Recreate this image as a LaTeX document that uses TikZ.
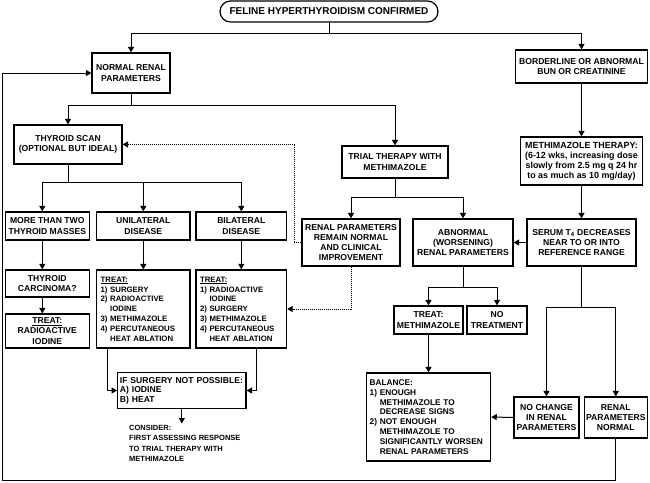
\documentclass[tikz,border=0pt]{standalone}
\usepackage{fontspec}
\setmainfont{Liberation Sans}
\usepackage{tikz}
\usetikzlibrary{arrows.meta, positioning, calc}

\begin{document}
\begin{tikzpicture}[
        x=1pt, y=-1pt,
        box/.style={
            rectangle,
            draw=black,
            line width=1.2pt,
            align=center,
            inner sep=1pt,
            font=\fontsize{8.6}{10.2}\selectfont\bfseries
        },
        listbox/.style={box, align=left, inner sep=4pt, minimum height=78pt, font=\fontsize{7.8}{9.8}\selectfont\bfseries},
        arr/.style={-{Triangle[length=5.5pt, width=6pt]}, line width=1pt},
        dotarr/.style={arr, line width=0.8pt, dash pattern=on 1pt off 1pt}
    ]
    \useasboundingbox (0,0) rectangle (650,482);

    % top and first split
    \node[box, rounded corners=10.5pt, minimum width=218pt, minimum height=21pt, font=\fontsize{10}{12}\selectfont\bfseries] (confirmed) at (329,11.5) {FELINE HYPERTHYROIDISM CONFIRMED};
    \node[box, minimum width=78pt, minimum height=40pt] (normal) at (131,73) {NORMAL RENAL\\PARAMETERS};
    \node[box, minimum width=132pt, minimum height=33pt] (border) at (581.5,66.5) {BORDERLINE OR ABNORMAL\\BUN OR CREATININE};

    % normal renal branch
    \node[box, minimum width=108pt, minimum height=39pt] (scan) at (68,144.5) {THYROID SCAN\\(OPTIONAL BUT IDEAL)};
    \node[box, minimum width=106pt, minimum height=32pt] (trial) at (395,162) {TRIAL THERAPY WITH\\METHIMAZOLE};
    \node[box, minimum width=84pt, minimum height=28pt] (more) at (47.3,226) {MORE THAN TWO\\THYROID MASSES};
    \node[box, minimum width=93.3pt, minimum height=28pt] (uni) at (143.3,226) {UNILATERAL\\DISEASE};
    \node[box, minimum width=90.6pt, minimum height=28pt] (bil) at (241.3,226) {BILATERAL\\DISEASE};
    \node[box, minimum width=84pt, minimum height=27pt] (carc) at (47.3,283.5) {THYROID\\CARCINOMA?};
    \node[box, minimum width=84pt, minimum height=34pt] (radio) at (47.3,331) {\underline{TREAT:}\\RADIOACTIVE\\IODINE};
    \node[listbox, text width=85.3pt] (unitreat) at (143.3,309) {\underline{TREAT:}\\1) SURGERY\\2) RADIOACTIVE\\\hphantom{2) }IODINE\\3) METHIMAZOLE\\4) PERCUTANEOUS\\\hphantom{4) }HEAT ABLATION};
    \node[listbox, text width=82.6pt] (biltreat) at (241.3,309) {\underline{TREAT:}\\1) RADIOACTIVE\\\hphantom{1) }IODINE\\2) SURGERY\\3) METHIMAZOLE\\4) PERCUTANEOUS\\\hphantom{4) }HEAT ABLATION};
    \node[box, align=left, text width=123.7pt, inner sep=2.3pt, minimum height=36pt, font=\fontsize{8.6}{9.6}\selectfont\bfseries] (ifsurg) at (181.8,390.5) {IF SURGERY NOT POSSIBLE:\\A) IODINE\\B) HEAT};
    \node[anchor=north west, align=left, inner sep=0pt, font=\fontsize{7.5}{10.3}\selectfont\bfseries] (consider) at (129,425) {CONSIDER:\\FIRST ASSESSING RESPONSE\\TO TRIAL THERAPY WITH\\METHIMAZOLE};

    % trial therapy and abnormal branch
    \node[box, minimum width=98pt, minimum height=47pt] (remain) at (351,242.5) {RENAL PARAMETERS\\REMAIN NORMAL\\AND CLINICAL\\IMPROVEMENT};
    \node[box, minimum width=100pt, minimum height=47pt] (abn) at (463,242.5) {ABNORMAL\\(WORSENING)\\RENAL PARAMETERS};
    \node[box, minimum width=122pt, minimum height=48pt, font=\fontsize{8.9}{9.9}\selectfont\bfseries] (methi) at (581.5,161) {METHIMAZOLE THERAPY:\\(6-12 wks, increasing dose\\slowly from 2.5 mg q 24 hr\\to as much as 10 mg/day)};
    \node[box, minimum width=109pt, minimum height=47pt] (serum) at (581.5,242.5) {SERUM T\textsubscript{4} DECREASES\\NEAR TO OR INTO\\REFERENCE RANGE};
    \node[box, minimum width=69pt, minimum height=28pt] (treatm) at (428.5,320) {TREAT:\\METHIMAZOLE};
    \node[box, minimum width=60pt, minimum height=28pt] (notreat) at (497,320) {NO\\TREATMENT};
    \node[box, align=left, text width=117.7pt, inner sep=3.3pt, minimum height=88pt, font=\fontsize{8.3}{9.8}\selectfont\bfseries] (balance) at (428.5,417) {BALANCE:\\1) ENOUGH\\\hphantom{1) }METHIMAZOLE TO\\\hphantom{1) }DECREASE SIGNS\\2) NOT ENOUGH\\\hphantom{2) }METHIMAZOLE TO\\\hphantom{2) }SIGNIFICANTLY WORSEN\\\hphantom{2) }RENAL PARAMETERS};
    \node[box, minimum width=65pt, minimum height=41pt] (nochange) at (546.5,417.5) {NO CHANGE\\IN RENAL\\PARAMETERS};
    \node[box, minimum width=63pt, minimum height=41pt] (renalnorm) at (615.8,417.5) {RENAL\\PARAMETERS\\NORMAL};
    \coordinate (loop) at (2,480);

    % connectors
    \draw[arr] (confirmed.south) -- ++(0,10.7) -| (normal.north);
    \draw[arr] (confirmed.south) -- ++(0,10.7) -| (border.north);
    \draw[arr] (normal.south) -- ++(0,12) -| (scan.north);
    \draw[arr] (normal.south) -- ++(0,12) -| (trial.north);
    \draw[arr] (border.south) -- (methi.north);
    \draw[arr] (methi.south) -- (serum.north);
    \draw[arr] (scan.south) -- ++(0,17.5) -| ([xshift=-5pt]more.north);
    \draw[arr] (scan.south) -- ++(0,17.5) -| (uni.north);
    \draw[arr] (scan.south) -- ++(0,17.5) -| (bil.north);
    \draw[arr] ([xshift=-5pt]more.south) -- ([xshift=-5pt]carc.north);
    \draw[arr] ([xshift=-5pt]carc.south) -- ([xshift=-5pt]radio.north);
    \draw[arr] (uni.south) -- (unitreat.north);
    \draw[arr] (bil.south) -- (biltreat.north);
    \draw[arr] ([xshift=-35.6pt]unitreat.south) |- (ifsurg.west);
    \draw[arr] ([xshift=14.7pt]biltreat.south) |- (ifsurg.east);
    \draw[arr, shorten >=1.5pt] (ifsurg.south) -- (ifsurg.south |- consider.north);
    \draw[arr] (trial.south) -- ++(0,19.3) -| (remain.north);
    \draw[arr] (trial.south) -- ++(0,19.3) -| (abn.north);
    \draw[arr] (serum.west) -- (abn.east);
    \draw[arr] (abn.south) -- ++(0,20.7) -| (treatm.north);
    \draw[arr] (abn.south) -- ++(0,20.7) -| (notreat.north);
    \draw[arr] (treatm.south) -- (treatm.south |- balance.north);
    \draw[arr] (serum.south) -- ++(0,40.7) -| (nochange.north);
    \draw[arr] (serum.south) -- ++(0,40.7) -| (renalnorm.north);
    \draw[arr] (nochange.west) -- (balance.east);
    \draw[arr] (renalnorm.south) |- (loop) |- (normal.west);
    \draw[dotarr] (remain.west) -- ++(-7,0) |- (scan.east);
    \draw[dotarr] (remain.south) |- (biltreat.east);
\end{tikzpicture}
\end{document}
